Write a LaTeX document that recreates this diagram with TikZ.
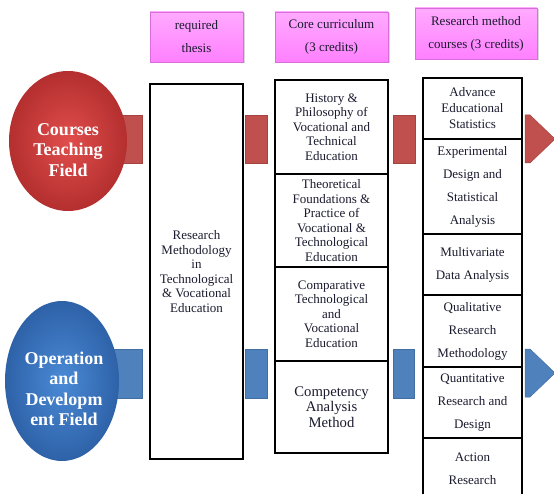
\documentclass[tikz,border=0pt]{standalone}
\usepackage{fontspec}
\setmainfont{Liberation Serif}
\usetikzlibrary{shapes.geometric,shadows}
\definecolor{hdrpink}{HTML}{FF80FF}
\definecolor{hdrlight}{HTML}{FFAAFF}
\definecolor{redA}{HTML}{C0504D}
\definecolor{redIn}{HTML}{E04E4C}
\definecolor{redOut}{HTML}{B42F2F}
\definecolor{blueA}{HTML}{4F81BD}
\definecolor{blueIn}{HTML}{4A8AD6}
\definecolor{blueOut}{HTML}{2E62A8}
\definecolor{txt}{HTML}{1A1A2E}
\begin{document}
\begin{tikzpicture}[x=1pt,y=-1pt,
  hdr/.style={rectangle, inner sep=0pt, top color=hdrlight, bottom color=hdrpink,
    draw=hdrpink!85!black, line width=0.4pt,
    drop shadow={shadow xshift=1.5pt, shadow yshift=-1.5pt, fill=black!30},
    font=\fontsize{13}{23}\selectfont, text=txt, align=center},
  cell/.style={rectangle, draw=black, line width=1.6pt, inner sep=0pt, align=center,
    text=txt, font=\fontsize{13}{14.6}\selectfont},
  wide/.style={font=\fontsize{13}{23}\selectfont},
  redbar/.style={fill=redA, draw=redA!85!black, line width=0.5pt},
  bluebar/.style={fill=blueA, draw=blueA!85!black, line width=0.5pt},
  field/.style={ellipse, inner sep=0pt},
  fieldtext/.style={text=white, align=center, font=\fontsize{18}{20.5}\selectfont\bfseries}
]
\useasboundingbox (0,0) rectangle (554,494);
\clip (0,0) rectangle (554,494);

% headers
\node[hdr, minimum width=93pt, minimum height=50pt] (h1) at (196.5,37) {required\\thesis};
\node[hdr, minimum width=113pt, minimum height=50pt] (h2) at (331.5,37) {Core curriculum\\(3 credits)};
\node[hdr, minimum width=122pt, minimum height=51pt] (h3) at (476,33.5) {Research method\\courses (3 credits)};

% bars (red)
\path[redbar] (112,115) rectangle (142,163);
\path[redbar] (245,115) rectangle (267,163);
\path[redbar] (393,115) rectangle (415,163);
\path[redbar] (525,115) -- (530,115) -- (555,139) -- (530,163) -- (525,163) -- cycle;
% bars (blue)
\path[bluebar] (112,349) rectangle (142,398);
\path[bluebar] (245,349) rectangle (267,398);
\path[bluebar] (393,349) rectangle (414,398);
\path[bluebar] (525,349) -- (530,349) -- (555,373) -- (530,397) -- (525,397) -- cycle;

% fields
\node[field, minimum width=118pt, minimum height=140pt, inner color=redIn, outer color=redOut] (f1) at (68,141) {};
\node[fieldtext] (f1t) at (68,150) {Courses\\Teaching\\Field};
\node[field, minimum width=114pt, minimum height=160pt, inner color=blueIn, outer color=blueOut] (f2) at (62,381) {};
\node[fieldtext] (f2t) at (64,389) {Operation\\and\\Developm\\ent Field};

% column 1
\node[cell, minimum width=93pt, minimum height=375pt] (c1) at (196.5,271.5)
  {Research\\Methodology\\in\\Technological\\\& Vocational\\Education};

% column 2
\node[cell, minimum width=113pt, minimum height=94pt] (b1) at (331.5,127)
  {History \&\\Philosophy of\\Vocational and\\Technical\\Education};
\node[cell, minimum width=113pt, minimum height=93pt] (b2) at (331.5,220.5)
  {Theoretical\\Foundations \&\\Practice of\\Vocational \&\\Technological\\Education};
\node[cell, minimum width=113pt, minimum height=94pt] (b3) at (331.5,314)
  {Comparative\\Technological\\and\\Vocational\\Education};
\node[cell, minimum width=113pt, minimum height=92pt, font=\fontsize{14.7}{15.6}\selectfont] (b4) at (331.5,407)
  {Competency\\Analysis\\Method};

% column 3
\node[cell, minimum width=99pt, minimum height=61pt, font=\fontsize{13}{16}\selectfont] (d1) at (472.5,108.5)
  {Advance\\Educational\\Statistics};
\node[cell, wide, minimum width=99pt, minimum height=95pt] (d2) at (472.5,186.5)
  {Experimental\\Design and\\Statistical\\Analysis};
\node[cell, wide, minimum width=99pt, minimum height=61pt] (d3) at (472.5,264.5)
  {Multivariate\\Data Analysis};
\node[cell, wide, minimum width=99pt, minimum height=72pt] (d4) at (472.5,331)
  {Qualitative\\Research\\Methodology};
\node[cell, wide, minimum width=99pt, minimum height=71pt] (d5) at (472.5,402.5)
  {Quantitative\\Research and\\Design};
\node[cell, wide, minimum width=99pt, minimum height=62pt] (d6) at (472.5,469)
  {Action\\Research};
\end{tikzpicture}
\end{document}
